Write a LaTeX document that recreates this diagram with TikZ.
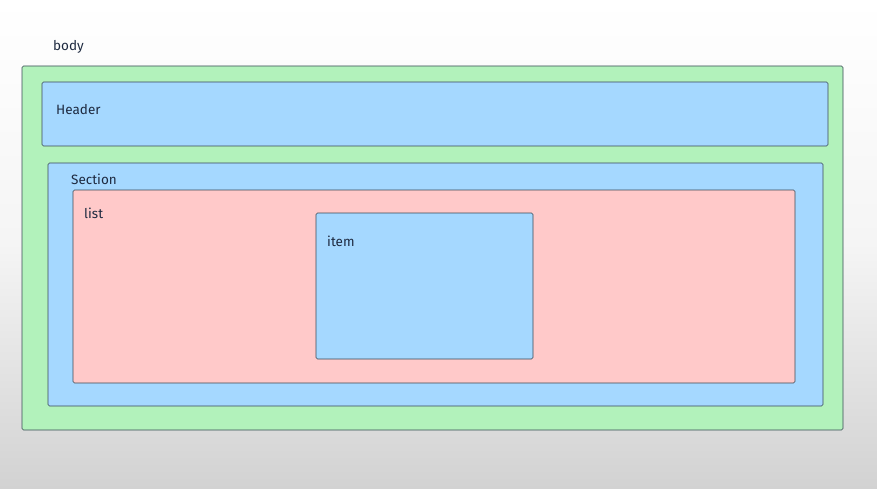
\documentclass[tikz,border=0pt]{standalone}
\usepackage{fontspec}
\setmainfont{Fira Sans}
\definecolor{bgbot}{HTML}{D2D2D2}
\definecolor{grn}{HTML}{B2F2BB}
\definecolor{blu}{HTML}{A5D8FF}
\definecolor{pnk}{HTML}{FFC9C9}
\definecolor{edge}{HTML}{3A4A55}
\definecolor{txt}{HTML}{1E2A40}
\begin{document}
\begin{tikzpicture}[x=1pt,y=-1pt,
  box/.style={draw=edge,line width=0.6pt,rounded corners=1.5pt},
  lbl/.style={anchor=west,inner sep=0pt,font=\fontsize{13.5}{15}\selectfont,text=txt}]
\shade[top color=white,bottom color=bgbot,middle color=white!96!black] (0,0) rectangle (877,489);
\useasboundingbox (0,0) rectangle (877,489);
\node[lbl] (bodyl) at (53,47) {body};
\draw[box,fill=grn] (22,66) rectangle (843,430);
\draw[box,fill=blu] (42,82) rectangle (828,146);
\node[lbl] (headerl) at (56,110) {Header};
\draw[box,fill=blu] (48,163) rectangle (823,406);
\node[lbl] (sectionl) at (71,179) {Section};
\draw[box,fill=pnk] (73,190) rectangle (795,383);
\node[lbl] (listl) at (84,213) {list};
\draw[box,fill=blu] (316,213) rectangle (533,359);
\node[lbl] (iteml) at (327,241) {item};
\end{tikzpicture}
\end{document}
